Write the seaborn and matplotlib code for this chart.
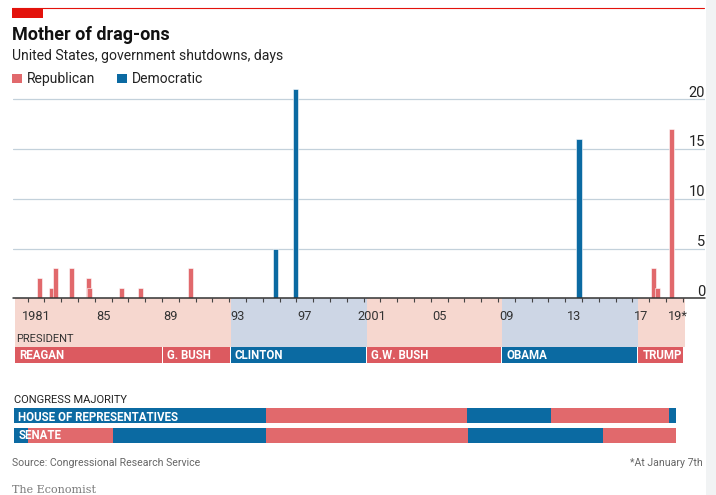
import numpy as np
import pandas as pd
import matplotlib
matplotlib.use("Agg")
import matplotlib.pyplot as plt
import matplotlib.transforms as mtransforms
from matplotlib.patches import Rectangle
from matplotlib.lines import Line2D
import seaborn as sns

# ---------------- data ----------------
shutdown_year = [1981.69, 1982.43, 1982.67, 1983.63, 1984.61, 1984.71, 1986.61,
                 1987.74, 1990.67, 1995.73, 1996.96, 2013.82, 2018.26, 2018.48, 2019.35]
shutdown_days = [2, 1, 3, 3, 2, 1, 1, 1, 3, 5, 21, 16, 3, 1, 17]
shutdown_party = ["Republican"] * 9 + ["Democratic"] * 3 + ["Republican"] * 3

presidents = ["REAGAN", "G. BUSH", "CLINTON", "G.W. BUSH", "OBAMA", "TRUMP"]
president_start = [1980.25, 1989.06, 1993.10, 2001.20, 2009.25, 2017.35]
president_end = [1989.06, 1993.10, 2001.20, 2009.25, 2017.35, 2020.10]
president_party = ["Republican", "Republican", "Democratic", "Republican", "Democratic", "Republican"]

house_start = [1980.20, 1995.17, 2007.15, 2012.15, 2019.20]
house_end = [1995.17, 2007.15, 2012.15, 2019.20, 2019.60]
house_party = ["Democratic", "Republican", "Democratic", "Republican", "Democratic"]

senate_start = [1980.20, 1981.00, 1986.10, 1995.17, 2007.20, 2015.25]
senate_end = [1981.00, 1986.10, 1995.17, 2007.20, 2015.25, 2019.60]
senate_party = ["Democratic", "Republican", "Democratic", "Republican", "Democratic", "Republican"]

year_ticks = list(range(1981, 2021))
year_label_years = [1981, 1985, 1989, 1993, 1997, 2001, 2005, 2009, 2013, 2017, 2019]
year_labels = ["1981", "85", "89", "93", "97", "2001", "05", "09", "13", "17", "19*"]
y_ticks = [0, 5, 10, 15, 20]

# ---------------- style ----------------
sns.set_theme(style="white")
plt.rcParams["font.family"] = ["Roboto", "DejaVu Sans"]

BAR = {"Republican": "#e1696c", "Democratic": "#0b6aa2"}
LAB = {"Republican": "#dc5a60", "Democratic": "#0b6aa2"}
BG = {"Republican": "#f6d7cf", "Democratic": "#cdd6e5"}
GRID = "#c3d1db"
TXT = "#222222"

W, H = 716, 495
fig = plt.figure(figsize=(W / 100, H / 100), dpi=100)
PX = mtransforms.Affine2D().scale(1 / W, -1 / H).translate(0, 1) + fig.transFigure

X0, X1 = 1980.113, 2021.32
left_px, right_px = 12.7, 705.0
base_px, top_px, low_px = 298.3, 87.4, 445.0

# right-hand light strip (screenshot edge)
fig.add_artist(Rectangle((706, 0), 10, H, transform=PX, color="#f1f3f4", lw=0, zorder=0))

# lower panel (presidents + congress), y in pixel rows
ax2 = fig.add_axes([left_px / W, (H - low_px) / H, (right_px - left_px) / W, (low_px - base_px) / H])
ax2.set_xlim(X0, X1)
ax2.set_ylim(low_px, base_px)
ax2.axis("off")

for s, e, p in zip(president_start, president_end, president_party):
    ax2.barh(y=(base_px + 347.3) / 2, width=e - s, left=s, height=347.3 - base_px,
             color=BG[p], linewidth=0, zorder=1)
for name, s, e, p in zip(presidents, president_start, president_end, president_party):
    ax2.barh(y=355.3, width=e - s - 0.06, left=s, height=16, color=LAB[p], linewidth=0, zorder=2)
    ax2.text(s + 0.24, 359.0, name, color="white", fontsize=8.3, weight="semibold",
             va="baseline", ha="left", zorder=3)

for yr, lab in zip(year_label_years, year_labels):
    xc = yr + 0.5 + (0.18 if lab.endswith("*") else 0)
    ax2.text(xc, 320.0, lab, ha="center", va="baseline", fontsize=9.2, color="#333333", zorder=3)

for s, e, p in zip(house_start, house_end, house_party):
    ax2.barh(y=415.8, width=e - s, left=s, height=15, color=BAR[p], linewidth=0)
for s, e, p in zip(senate_start, senate_end, senate_party):
    ax2.barh(y=435.8, width=e - s, left=s, height=15, color=BAR[p], linewidth=0)
ax2.text(1980.20 + 0.25, 420.7, "HOUSE OF REPRESENTATIVES", color="white", fontsize=8.3,
         weight="semibold", va="baseline")
ax2.text(1980.20 + 0.25, 439.3, "SENATE", color="white", fontsize=8.3,
         weight="semibold", va="baseline")

# main panel
ax = fig.add_axes([left_px / W, (H - base_px) / H, (right_px - left_px) / W, (base_px - top_px) / H])
ax.patch.set_alpha(0)
df = pd.DataFrame({"year": shutdown_year, "days": shutdown_days, "party": shutdown_party})
sns.barplot(data=df, x="year", y="days", hue="party", palette=BAR, native_scale=True,
            dodge=False, errorbar=None, legend=False, saturation=1, ax=ax,
            edgecolor="white", linewidth=0.4, zorder=2)
for patch in ax.patches:
    c = patch.get_x() + patch.get_width() / 2
    patch.set_width(0.3)
    patch.set_x(c - 0.15)

ax.set_xlim(X0, X1)
ax.set_ylim(0, 21.2)
ax.set_xlabel("")
ax.set_ylabel("")
for sp in ax.spines.values():
    sp.set_visible(False)
for v in y_ticks[1:]:
    ax.axhline(v, color=GRID, lw=0.9, zorder=0)
ax.axhline(0, color="#333333", lw=1.1, zorder=3, clip_on=False)
ax.set_xticks(year_ticks)
ax.tick_params(axis="x", which="major", length=3.2, width=0.8, color="#444444",
               direction="out", labelbottom=False, bottom=True)
ax.set_yticks([])

ylab_tr = mtransforms.offset_copy(mtransforms.blended_transform_factory(ax.transAxes, ax.transData),
                                  fig=fig, x=0, y=2.0, units="points")
for v in y_ticks:
    ax.text(1.0, v, str(v), transform=ylab_tr, ha="right", va="baseline",
            fontsize=10.5, color=TXT)

# header
fig.add_artist(Line2D([12, 704], [8.3, 8.3], transform=PX, color="#e3120b", lw=0.8))
fig.add_artist(Rectangle((12.3, 8.3), 31, 10, transform=PX, color="#e3120b", lw=0))
fig.text(12.3, 40, "Mother of drag-ons", transform=PX, fontsize=13, weight="bold",
         va="baseline", color="#111111")
fig.text(12.3, 60, "United States, government shutdowns, days", transform=PX,
         fontsize=10.1, va="baseline", color=TXT)
fig.add_artist(Rectangle((12.3, 74), 10, 9.3, transform=PX, color=BAR["Republican"], lw=0))
fig.text(27.3, 82.7, "Republican", transform=PX, fontsize=10, va="baseline", color=TXT)
fig.add_artist(Rectangle((116.7, 74), 10, 9.3, transform=PX, color=BAR["Democratic"], lw=0))
fig.text(132, 82.7, "Democratic", transform=PX, fontsize=10, va="baseline", color=TXT)

# section labels
fig.text(15.7, 341.7, "PRESIDENT", transform=PX, fontsize=8, va="baseline", color="#333333")
fig.text(14, 403.3, "CONGRESS MAJORITY", transform=PX, fontsize=8, va="baseline", color="#222222")

# footer
fig.text(12.3, 465.5, "Source: Congressional Research Service", transform=PX, fontsize=7.6,
         va="baseline", color="#666666")
fig.text(703, 465.5, "*At January 7th", transform=PX, fontsize=7.6, va="baseline",
         ha="right", color="#666666")
fig.text(12.3, 493.3, "The Economist", transform=PX, fontsize=8.0, va="baseline",
         color="#7a7a7a", family="DejaVu Serif")

fig.savefig("out.png", dpi=100)
